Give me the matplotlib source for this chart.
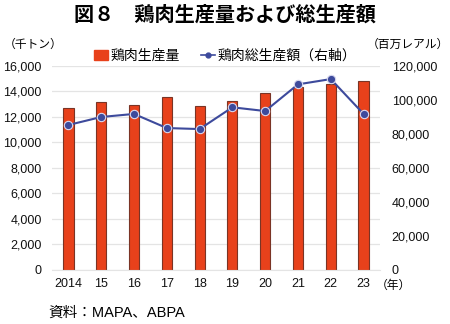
import numpy as np
import matplotlib.pyplot as plt
from matplotlib.ticker import FuncFormatter

plt.rcParams['font.family'] = ['Liberation Sans', 'Noto Sans CJK JP', 'DejaVu Sans']

years = ['2014', '15', '16', '17', '18', '19', '20', '21', '22', '23']
production = [12700, 13150, 12950, 13550, 12900, 13280, 13880, 14380, 14560, 14850]   # 千トン
value = [85300, 90000, 91800, 83500, 82900, 95700, 93500, 109200, 112300, 91800]     # 百万レアル

jp = ['Noto Sans CJK JP', 'DejaVu Sans']

fig = plt.figure(figsize=(4.5, 3.24), dpi=100)
ax = fig.add_axes([0.1156, 0.1667, 0.7288, 0.6296])
ax2 = ax.twinx()

x = np.arange(len(years))
ax.bar(x, production, width=0.31, color='#E8411B', edgecolor='#7A3425', linewidth=0.8, zorder=2)
ax2.plot(x, value, '-o', color='#3D4A9C', lw=1.5, ms=6, mfc='#3D4A9C',
         mec='#D8D8EE', mew=0.8, zorder=3)

ax.set_xlim(-0.5, len(years) - 0.5)
ax.set_ylim(0, 16000)
ax2.set_ylim(0, 120000)
ax.set_yticks(np.arange(0, 16001, 2000))
ax2.set_yticks(np.arange(0, 120001, 20000))
fmt = FuncFormatter(lambda v, p: f'{int(v):,}')
ax.yaxis.set_major_formatter(fmt)
ax2.yaxis.set_major_formatter(fmt)
ax.set_xticks(x)
ax.set_xticklabels(years)

ax.grid(axis='y', color='#E4E4E4', lw=0.9, zorder=0)
ax.set_axisbelow(True)
for a in (ax, ax2):
    for s in a.spines.values():
        s.set_visible(False)
    a.tick_params(length=0, labelsize=9, colors='#111111')
ax.spines['bottom'].set_visible(True)
ax.spines['bottom'].set_color('#E4E4E4')
ax.tick_params(axis='y', pad=7.5)
ax2.tick_params(axis='y', pad=8.5)
ax.tick_params(axis='x', pad=6)

fig.text(0.5, 0.955, '図８　鶏肉生産量および総生産額', ha='center', va='center',
         fontsize=14.5, fontweight='bold', family=jp)
fig.text(0.008, 0.862, '（千トン）', ha='left', va='center', fontsize=8.5, family=jp)
fig.text(0.997, 0.862, '（百万レアル）', ha='right', va='center', fontsize=8.5, family=jp)
fig.text(0.836, 0.118, '（年）', ha='left', va='center', fontsize=8.5, family=jp)
fig.text(0.108, 0.035, '資料：MAPA、ABPA', ha='left', va='center', fontsize=10.5,
         family=['Liberation Sans', 'Noto Sans CJK JP'])

h1 = plt.Rectangle((0, 0), 1, 1, color='#E8411B')
h2 = plt.Line2D([], [], color='#3D4A9C', lw=1.2, marker='o', ms=3.5, mfc='#3D4A9C')
fig.legend([h1, h2], ['鶏肉生産量', '鶏肉総生産額（右軸）'], loc='center',
           bbox_to_anchor=(0.5, 0.828), ncol=2, frameon=False,
           prop={'family': jp, 'size': 10}, handlelength=1.0, handletextpad=0.2,
           columnspacing=1.5)

fig.savefig('out.png', dpi=100)
